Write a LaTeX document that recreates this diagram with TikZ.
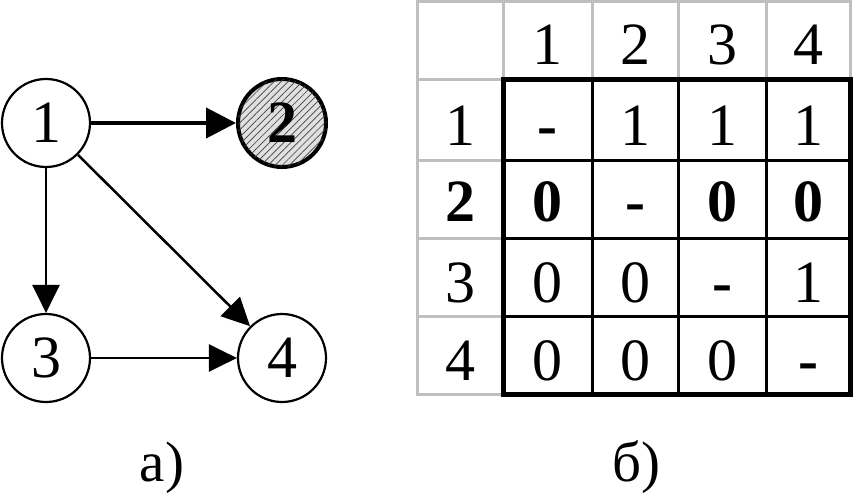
\documentclass[tikz,border=0pt]{standalone}
\usepackage{fontspec}
\setmainfont{Liberation Serif}
\usetikzlibrary{arrows.meta,patterns.meta}
\begin{document}
\begin{tikzpicture}[x=1pt,y=-1pt,
  vert/.style={circle,draw,line width=2.2pt,minimum size=88pt,inner sep=0pt,font=\fontsize{60}{62}\selectfont},
  edge/.style={line width=2.5pt,-{Triangle[length=28pt,width=27pt]}},
  cell/.style={inner sep=0pt,font=\fontsize{60}{62}\selectfont,anchor=base},
  lab/.style={inner sep=0pt,font=\fontsize{57}{60}\selectfont,anchor=base},
  grayline/.style={draw=black!25,line width=3pt},
  inline/.style={draw=black,line width=3pt},
  outline/.style={draw=black,line width=5pt}]
\useasboundingbox (0,0) rectangle (856,497);
% graph
\node[vert] (n1) at (46,123) {1};
\node[vert,line width=4pt,fill=black!12,postaction={pattern={Lines[angle=45,distance=5pt,line width=0.7pt]},pattern color=black!75}] (n2) at (282,123) {\textbf{2}};
\node[vert] (n3) at (46,358) {3};
\node[vert] (n4) at (282,358) {4};
\draw[edge,line width=4pt,-{Triangle[length=30pt,width=30pt]}] (n1) -- (n2);
\draw[edge] (n1) -- (n3);
\draw[edge] (n1) -- (n4);
\draw[edge] (n3) -- (n4);
\node[lab] (la) at (162,481) {а)};
\node[lab] (lb) at (636,481) {б)};
% table grid
\draw[grayline] (417,2) rectangle (850,394);
\foreach \x in {503,592,678,766} \draw[grayline] (\x,2) -- (\x,80);
\foreach \y in {80,161,238,316} \draw[grayline] (417,\y) -- (503,\y);
\foreach \x in {592,678,766} \draw[inline] (\x,80) -- (\x,394);
\foreach \y in {161,238,316} \draw[inline] (503,\y) -- (850,\y);
\draw[outline] (503,80) rectangle (850,394);
% headers
\node[cell] (h1) at (547.5,65) {1};
\node[cell] (h2) at (635,65) {2};
\node[cell] (h3) at (722,65) {3};
\node[cell] (h4) at (808,65) {4};
\node[cell] (r1) at (460,146) {1};
\node[cell] (r2) at (460,222) {\textbf{2}};
\node[cell] (r3) at (460,302) {3};
\node[cell] (r4) at (460,380) {4};
% row 1
\node[cell] (c11) at (547.5,146) {\textbf{-}};
\node[cell] (c12) at (635,146) {1};
\node[cell] (c13) at (722,146) {1};
\node[cell] (c14) at (808,146) {1};
% row 2
\node[cell] (c21) at (547.5,222) {\textbf{0}};
\node[cell] (c22) at (635,222) {\textbf{-}};
\node[cell] (c23) at (722,222) {\textbf{0}};
\node[cell] (c24) at (808,222) {\textbf{0}};
% row 3
\node[cell] (c31) at (547.5,302) {0};
\node[cell] (c32) at (635,302) {0};
\node[cell] (c33) at (722,302) {\textbf{-}};
\node[cell] (c34) at (808,302) {1};
% row 4
\node[cell] (c41) at (547.5,380) {0};
\node[cell] (c42) at (635,380) {0};
\node[cell] (c43) at (722,380) {0};
\node[cell] (c44) at (808,380) {\textbf{-}};
\end{tikzpicture}
\end{document}
